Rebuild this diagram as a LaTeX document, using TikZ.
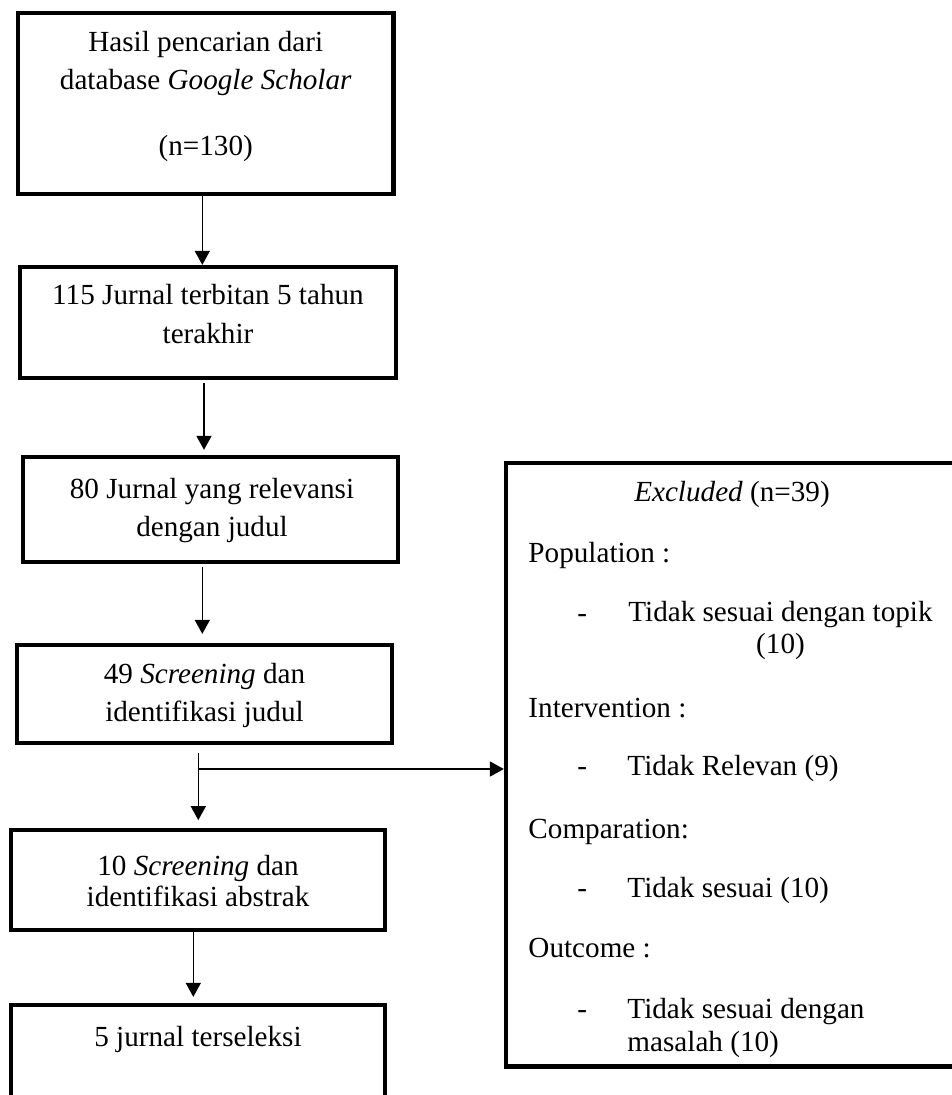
\documentclass[tikz,border=0pt]{standalone}
\usepackage{fontspec}
\setmainfont{Liberation Serif}
\usepackage{tikz}
\usetikzlibrary{arrows.meta,positioning}

\def\pxu{0.4115pt}

\begin{document}
\begin{tikzpicture}[x=0.4115pt, y=-0.4115pt]
	\tikzstyle{Box}		= [rectangle, draw, line width=1.75pt, inner sep=0pt]
	\tikzstyle{BoxText}	= [align=center, inner sep=0pt, anchor=base, font=\fontsize{12}{15.8}\selectfont]
	\tikzstyle{ExText}	= [inner sep=0pt, anchor=base west, font=\fontsize{12}{13.8}\selectfont]
	\tikzstyle{Flow}	= [-{Triangle[width=6.2pt, length=5.8pt]}, line width=0.65pt]

	\useasboundingbox (0,0) rectangle (952,1095);

	% flow boxes
	\node (b1) at (205.75,103.5) [Box, minimum width=375.5*\pxu, minimum height=181*\pxu] {};
	\node (b2) at (208,322.5) [Box, minimum width=375.5*\pxu, minimum height=111*\pxu] {};
	\node (b3) at (210.5,509.5) [Box, minimum width=375*\pxu, minimum height=105*\pxu] {};
	\node (b4) at (204.5,694) [Box, minimum width=375*\pxu, minimum height=98*\pxu] {};
	\node (b5) at (198,880) [Box, minimum width=374*\pxu, minimum height=99.5*\pxu] {};
	\node (b6) at (198,1067.5) [Box, minimum width=374*\pxu, minimum height=125*\pxu] {};
	\node (ex) at (732,764.75) [Box, minimum width=452*\pxu, minimum height=603.5*\pxu] {};

	% texts sit on the baseline of their last line
	\node (t1) at (205.75,155) [BoxText] {Hasil pencarian dari\\database \textit{Google Scholar}\\[11pt](n=130)};
	\node (t2) at (208,343) [BoxText] {115 Jurnal terbitan 5 tahun\\terakhir};
	\node (t3) at (212,536.7) [BoxText] {80 Jurnal yang relevansi\\dengan judul};
	\node (t4) at (204.5,721.7) [BoxText] {49 \textit{Screening} dan\\identifikasi judul};
	\node (t5) at (198,906.7) [BoxText, font=\fontsize{12}{13}\selectfont] {10 \textit{Screening} dan\\identifikasi abstrak};
	\node (t6) at (198,1046.7) [BoxText] {5 jurnal terseleksi};

	% excluded list
	\node (exhead) at (732,501) [ExText, anchor=base] {\textit{Excluded} (n=39)};
	\node (pop) at (528,562) [ExText] {Population :};
	\node (d1) at (577,622) [ExText] {-};
	\node (i1) at (780.5,653) [ExText, anchor=base, align=center, font=\fontsize{12}{12.9}\selectfont] {Tidak sesuai dengan topik\\(10)};
	\node (intv) at (528,717) [ExText] {Intervention :};
	\node (d2) at (577,775) [ExText] {-};
	\node (i2) at (627,775) [ExText] {Tidak Relevan (9)};
	\node (comp) at (528,838) [ExText] {Comparation:};
	\node (d3) at (577,897) [ExText] {-};
	\node (i3) at (627,897) [ExText] {Tidak sesuai (10)};
	\node (outc) at (528,957) [ExText] {Outcome :};
	\node (d4) at (577,1018) [ExText] {-};
	\node (i4) at (627,1051.7) [ExText, align=left] {Tidak sesuai dengan\\masalah (10)};

	\coordinate (split) at (198.3,769);

	\draw [Flow] ([xshift=-1.42pt]b1.south) -- ([xshift=-1.42pt]b1.south |- b2.north);
	\draw [Flow, shorten <=1.23pt, shorten >=2.06pt] ([xshift=-1.65pt]b2.south) -- ([xshift=-1.65pt]b2.south |- b3.north);
	\draw [Flow, shorten <=1.23pt, shorten >=3.7pt] ([xshift=-3.37pt]b3.south) -- ([xshift=-3.37pt]b3.south |- b4.north);
	\draw [Flow, shorten <=3.29pt, shorten >=3.29pt] (split |- b4.south) -- (split |- b5.north);
	\draw [Flow] (split) -- (split -| ex.west);
	\draw [Flow, shorten >=2.47pt] ([xshift=-1.93pt]b5.south) -- ([xshift=-1.93pt]b5.south |- b6.north);
\end{tikzpicture}
\end{document}
